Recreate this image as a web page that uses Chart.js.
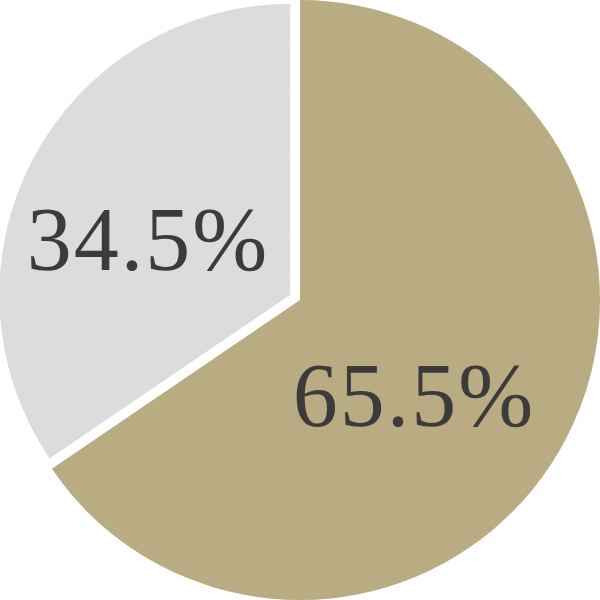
<!DOCTYPE html>
<html>
<head>
<meta charset="utf-8">
<script src="https://cdn.jsdelivr.net/npm/chart.js@4"></script>
<style>
  html, body { margin: 0; padding: 0; background: #fff; }
  #wrap { width: 600px; height: 600px; }
</style>
</head>
<body>
<div id="wrap"><canvas id="pieChart"></canvas></div>
<script>
const categories = ['A', 'B'];
const shares = [65.5, 34.5];
const sliceColors = ['#b9ac83', '#dcdcdc'];

// gray slice is pulled out a little and drawn a bit smaller
const pull = [0, 11];
const shrink = [0, 9];
// label placement: turn from mid angle (deg) and distance as part of radius
const labelTurn = [12.2, -6.9];
const labelDist = [0.492, 0.527];

const ctx = document.getElementById('pieChart').getContext('2d');

const pullPlugin = {
  id: 'pull',
  afterDatasetsUpdate(chart) {
    const meta = chart.getDatasetMeta(0);
    meta.data.forEach((arc, i) => {
      const mid = (arc.startAngle + arc.endAngle) / 2;
      arc.x = arc.x + Math.cos(mid) * pull[i];
      arc.y = arc.y + Math.sin(mid) * pull[i];
      arc.outerRadius = arc.outerRadius - shrink[i];
    });
  }
};

const labelPlugin = {
  id: 'pctLabels',
  afterDatasetsDraw(chart) {
    const c = chart.ctx;
    const meta = chart.getDatasetMeta(0);
    const size = 90;
    c.save();
    c.font = size + 'px "Liberation Serif", "DejaVu Serif", serif';
    c.fillStyle = '#3b3b3b';
    c.textAlign = 'center';
    c.textBaseline = 'alphabetic';
    c.letterSpacing = '2px';
    meta.data.forEach((arc, i) => {
      const mid = (arc.startAngle + arc.endAngle) / 2;
      const a = mid + labelTurn[i] * Math.PI / 180;
      const r = arc.outerRadius * labelDist[i];
      const x = arc.x + Math.cos(a) * r;
      const y = arc.y + Math.sin(a) * r;
      c.fillText(shares[i].toFixed(1) + '%', x + 1, y + size * 0.34);
    });
    c.restore();
  }
};

const pieChart = new Chart(ctx, {
  type: 'pie',
  data: {
    labels: categories,
    datasets: [{
      data: shares,
      backgroundColor: sliceColors,
      borderWidth: 0,
      radius: 300,
    }],
  },
  options: {
    responsive: true,
    maintainAspectRatio: false,
    animation: false,
    layout: { padding: 0 },
    plugins: {
      legend: { display: false },
      tooltip: { enabled: false },
    },
    events: [],
  },
  plugins: [pullPlugin, labelPlugin],
});
</script>
</body>
</html>
